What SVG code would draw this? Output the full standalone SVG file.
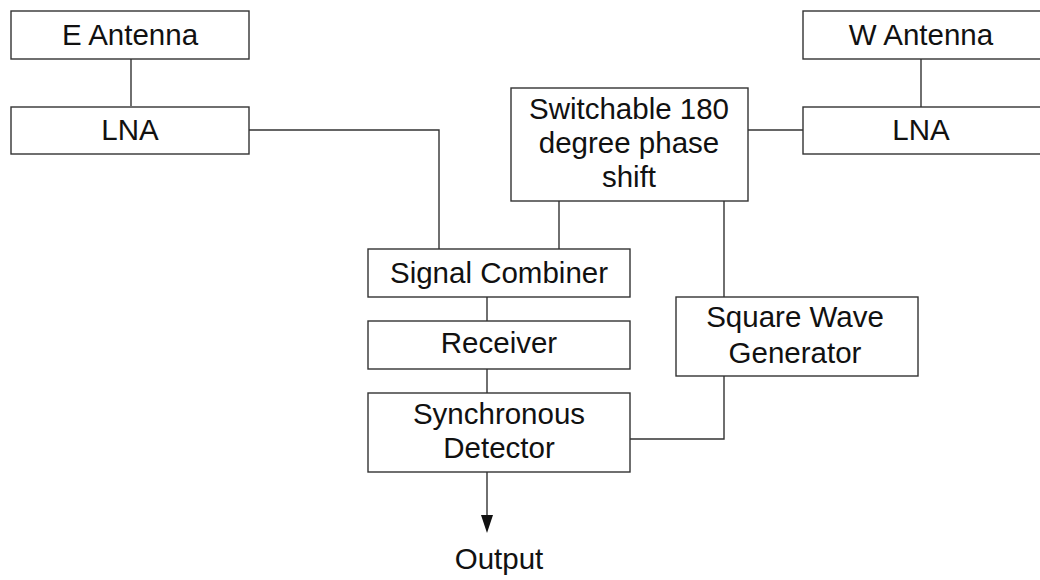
<svg xmlns="http://www.w3.org/2000/svg" width="1040" height="580" viewBox="0 0 1040 580">
<style>
.box{fill:#fff;stroke:#333;stroke-width:1.4}
.t{font-family:"Liberation Sans",Arial,sans-serif;font-size:29.5px;fill:#111;text-anchor:middle}
.c{fill:none;stroke:#333;stroke-width:1.4}
</style>
<rect width="1040" height="580" fill="#fff"/>
<g id="connectors">
<line class="c" x1="131" y1="59" x2="131" y2="106"/>
<polyline class="c" points="249,130 439,130 439,249"/>
<line class="c" x1="748" y1="130" x2="803" y2="130"/>
<line class="c" x1="921" y1="59" x2="921" y2="107"/>
<line class="c" x1="559" y1="201" x2="559" y2="249"/>
<line class="c" x1="724" y1="201" x2="724" y2="297"/>
<line class="c" x1="487" y1="297" x2="487" y2="321"/>
<line class="c" x1="487" y1="369" x2="487" y2="393"/>
<polyline class="c" points="724,369 724,439 630,439"/>
<line class="c" x1="487" y1="472" x2="487" y2="515"/>
<path d="M481,515 L493,515 L487,533 Z" fill="#111"/>
</g>
<g id="e-antenna"><rect class="box" x="11" y="11" width="238" height="48"/><text class="t" x="130" y="45">E Antenna</text></g>
<g id="lna-e"><rect class="box" x="11" y="107" width="238" height="47"/><text class="t" x="130" y="140">LNA</text></g>
<g id="w-antenna"><rect class="box" x="803" y="11" width="238" height="48"/><text class="t" x="921" y="45">W Antenna</text></g>
<g id="lna-w"><rect class="box" x="803" y="107" width="238" height="47"/><text class="t" x="921" y="140">LNA</text></g>
<g id="phase-shift"><rect class="box" x="511" y="88" width="237" height="113"/><text class="t" x="629" y="119">Switchable 180</text><text class="t" x="629" y="153">degree phase</text><text class="t" x="629" y="187">shift</text></g>
<g id="signal-combiner"><rect class="box" x="368" y="249" width="262" height="48"/><text class="t" x="499" y="283">Signal Combiner</text></g>
<g id="receiver"><rect class="box" x="368" y="321" width="262" height="48"/><text class="t" x="499" y="353">Receiver</text></g>
<g id="sync-detector"><rect class="box" x="368" y="393" width="262" height="79"/><text class="t" x="499" y="424">Synchronous</text><text class="t" x="499" y="458">Detector</text></g>
<g id="square-wave"><rect class="box" x="676" y="297" width="242" height="79"/><text class="t" x="795" y="327">Square Wave</text><text class="t" x="795" y="363">Generator</text></g>
<g id="output"><text class="t" x="499" y="569">Output</text></g>
</svg>
